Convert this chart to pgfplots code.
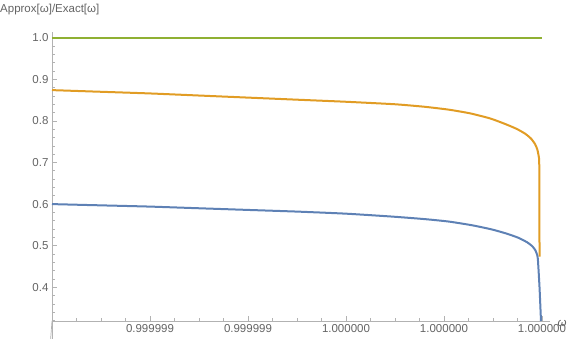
\documentclass[border=0pt]{standalone}
\usepackage{fontspec}
\setmainfont{Liberation Sans}
\usepackage{pgfplots}
\pgfplotsset{compat=1.18}

\definecolor{mmablue}{RGB}{94,129,181}
\definecolor{mmaorange}{RGB}{225,156,36}
\definecolor{mmagreen}{RGB}{143,176,50}
\definecolor{axgray}{RGB}{178,178,178}
\definecolor{labgray}{RGB}{100,100,100}

\begin{document}
\begin{tikzpicture}[font=\fontsize{11.5}{13}\selectfont]
\begin{axis}[
    scale only axis,
    width=498pt, height=289pt,
    xmin=0, xmax=5.082,
    ymin=0.319, ymax=1.0137,
    axis lines=left,
    axis line style={-, draw=axgray, line width=0.7pt},
    tick align=inside,
    tick style={draw=axgray, line width=0.7pt},
    major tick length=5pt,
    minor tick length=3pt,
    xtick={1,2,3,4,5},
    xticklabels={0.999999,0.999999,1.000000,1.000000,1.000000},
    minor xtick={0.25,0.5,0.75,1.25,1.5,1.75,2.25,2.5,2.75,3.25,3.5,3.75,4.25,4.5,4.75},
    ytick={0.4,0.5,0.6,0.7,0.8,0.9,1.0},
    minor ytick={0.32,0.34,0.36,0.38,0.42,0.44,0.46,0.48,0.52,0.54,0.56,0.58,0.62,0.64,0.66,0.68,0.72,0.74,0.76,0.78,0.82,0.84,0.86,0.88,0.92,0.94,0.96,0.98},
    yticklabel style={/pgf/number format/.cd, fixed, fixed zerofill, precision=1, assume math mode=true},
    ticklabel style={text=labgray},
    xlabel={\textit{ω}},
    xlabel style={at={(rel axis cs:1,0)}, anchor=west, xshift=4pt, yshift=-2pt, text=labgray},
    clip mode=individual,
]
% curves
\addplot[mmagreen, line width=2pt] coordinates {(0,1.0)(5,1.0)};

\addplot[mmaorange, line width=2pt, smooth, tension=0.35] coordinates {
    (0,0.874)(0.5,0.870)(1.0,0.866)(1.5,0.861)(2.0,0.856)(2.5,0.851)
    (3.0,0.846)(3.5,0.840)(3.8,0.834)(4.05,0.827)(4.27,0.818)(4.47,0.806)
    (4.62,0.793)(4.74,0.781)(4.83,0.769)(4.89,0.757)(4.93,0.744)
    (4.953,0.731)(4.966,0.716)(4.972,0.700)(4.974,0.600)(4.975,0.474)
};

\addplot[mmablue, line width=2pt, smooth, tension=0.35] coordinates {
    (0,0.600)(0.5,0.597)(1.0,0.594)(1.5,0.590)(2.0,0.586)(2.5,0.582)
    (3.0,0.577)(3.47,0.570)(3.8,0.564)(4.05,0.558)(4.29,0.549)(4.49,0.539)
    (4.64,0.529)(4.76,0.519)(4.85,0.508)(4.90,0.499)(4.93,0.490)
    (4.948,0.480)(4.958,0.468)(4.975,0.400)(4.99,0.319)
};

% axis overhang like Mathematica
\draw[axgray, line width=0.7pt] (rel axis cs:0,0) -- ++(-10pt,0);
\draw[axgray, line width=0.7pt] (rel axis cs:0,0) -- ++(0,-16pt);
\draw[axgray, line width=0.7pt] (rel axis cs:0,0) ++(0,-8pt) -- ++(3pt,0);

\node[anchor=west, text=labgray, inner sep=0pt] at ([shift={(-52pt,22pt)}]rel axis cs:0,1) {Approx[ω]/Exact[ω]};

\coordinate (O) at (rel axis cs:0,0);
\end{axis}
\pgfresetboundingbox
\path ([shift={(-52pt,-18pt)}]O) rectangle ([shift={(518pt,321pt)}]O);
\end{tikzpicture}
\end{document}
